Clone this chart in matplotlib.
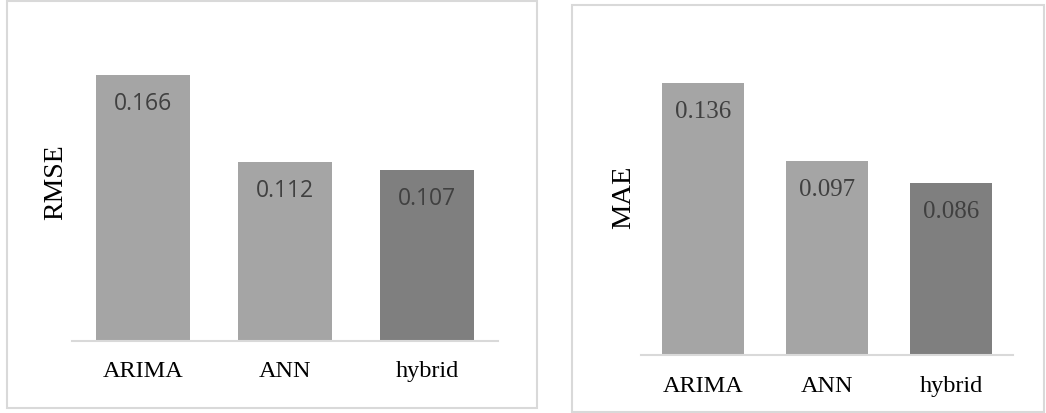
import matplotlib.pyplot as plt
from matplotlib.patches import Rectangle

models = ['ARIMA', 'ANN', 'hybrid']
rmse = [0.166, 0.112, 0.107]
mae = [0.136, 0.097, 0.086]

light = '#A5A5A5'
dark = '#7F7F7F'
colors = [light, light, dark]
line_col = '#D9D9D9'

W, H = 1046, 414
fig = plt.figure(figsize=(W / 100, H / 100), dpi=100)


def frame(x0, y0, x1, y1):
    # grey box round each chart, pixel coords from the top left
    fig.patches.append(Rectangle((x0 / W, 1 - y1 / H), (x1 - x0) / W, (y1 - y0) / H,
                                 transform=fig.transFigure, fill=False,
                                 edgecolor=line_col, linewidth=1.5))


def bars(ax, vals, ymax, lab, lab_xy, lab_size, val_font, pad):
    ax.bar(range(len(models)), vals, width=0.667, color=colors)
    ax.set_xlim(-0.5, 2.5)
    ax.set_ylim(0, ymax)
    for s in ['top', 'left', 'right']:
        ax.spines[s].set_visible(False)
    ax.spines['bottom'].set_color(line_col)
    ax.spines['bottom'].set_linewidth(1.5)
    ax.set_yticks([])
    ax.set_xticks(range(len(models)))
    ax.set_xticklabels(models, family='Liberation Serif', fontsize=17.5)
    ax.tick_params(axis='x', length=0, pad=pad)
    ax.set_ylabel(lab, family='Liberation Serif', fontsize=lab_size)
    ax.yaxis.set_label_coords(*lab_xy)
    for i, v in enumerate(vals):
        ax.annotate('%.3f' % v, (i, v), xytext=(0, -20), textcoords='offset points',
                    ha='center', va='center', color='#404040', **val_font)


frame(7, 2, 537, 409)
frame(572, 6, 1044, 413)

ax1 = fig.add_axes([72 / W, 1 - 342 / H, 426 / W, 320 / H])
bars(ax1, rmse, 0.2, 'RMSE', (-0.01, 0.5), 20,
     dict(family='Open Sans', fontsize=16.5), 13.5)

ax2 = fig.add_axes([641 / W, 1 - 356 / H, 372 / W, 300 / H])
bars(ax2, mae, 0.15, 'MAE', (-0.012, 0.53), 20.5,
     dict(family='Liberation Serif', fontsize=18), 14.5)

plt.savefig('out.png', dpi=100)
